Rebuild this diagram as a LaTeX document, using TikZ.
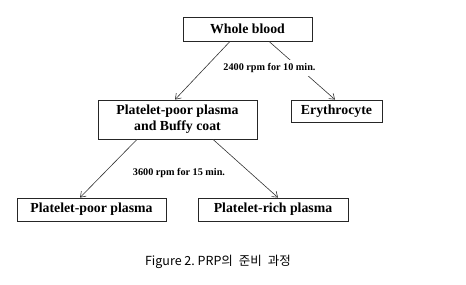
\documentclass[tikz,border=0pt]{standalone}
\usepackage{fontspec}
\setmainfont{Liberation Serif}
\newfontfamily\krfont{Noto Sans CJK KR}
\usetikzlibrary{arrows.meta, positioning}

\begin{document}
\begin{tikzpicture}[x=1pt, y=-1pt,
    box/.style={rectangle, draw=black!85, line width=0.8pt, fill=white, inner sep=0pt,
                font=\fontsize{13.8}{16}\selectfont\bfseries, align=center},
    lbl/.style={font=\fontsize{10.2}{12}\selectfont\bfseries, inner sep=3pt},
    arr/.style={-{Straight Barb[length=5pt, width=7pt]}, line width=0.6pt, black!80}]
    \useasboundingbox (0,0) rectangle (466,284);

    % Boxes
    \node[box, minimum width=129pt, minimum height=24pt] (blood) at (247.5,29) {Whole blood};
    \node[box, minimum width=159pt, minimum height=39pt] (buffy) at (177.5,119.5) {Platelet-poor plasma\\and Buffy coat};
    \node[box, minimum width=91pt, minimum height=22pt] (ery) at (336.5,111) {Erythrocyte};
    \node[box, minimum width=149pt, minimum height=23pt] (ppp) at (91.5,209.5) {Platelet-poor plasma};
    \node[box, minimum width=150pt, minimum height=23pt] (prp) at (273,209.5) {Platelet-rich plasma};

    % First spin
    \draw[arr] ([xshift=-17.5pt]blood.south) -- ([xshift=-2.5pt]buffy.north);
    \draw[arr] ([xshift=21.5pt]blood.south) -- ([xshift=-1.5pt]ery.north);
    \node[lbl, fill=white] (spin1) at (269.5,68) {2400 rpm for 10 min.};

    % Second spin
    \draw[arr] ([xshift=-40.5pt]buffy.south) -- ([xshift=-11.5pt]ppp.north);
    \draw[arr] ([xshift=35.5pt]buffy.south) -- ([xshift=5pt]prp.north);
    \node[lbl] (spin2) at (179,173) {3600 rpm for 15 min.};

    % Caption
    \node[font=\krfont\fontsize{12.5}{14}\selectfont] (cap) at (218,262) {Figure 2.\ PRP의\hspace{6pt}준비\hspace{6pt}과정};
\end{tikzpicture}
\end{document}
